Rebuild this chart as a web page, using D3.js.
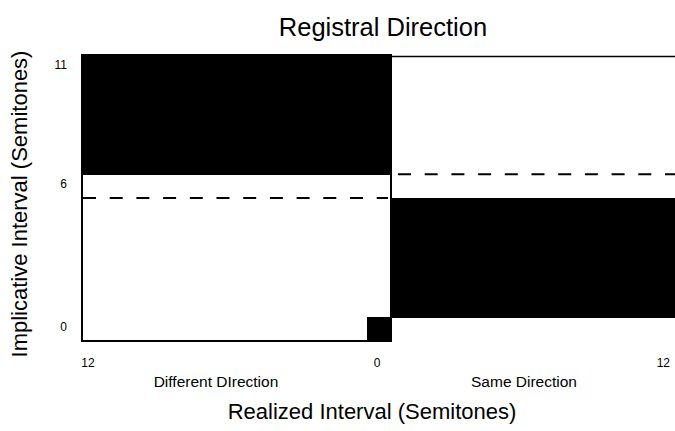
<!DOCTYPE html>
<html><head><meta charset="utf-8">
<script src="https://cdn.jsdelivr.net/npm/d3@7"></script>
<style>
html,body{margin:0;padding:0;background:#fff;}
text{font-family:"Liberation Sans",Arial,Helvetica,sans-serif;fill:#000;}
</style>
</head><body>
<svg id="chart" width="675" height="431"></svg>
<script>
// Implicative interval rows (semitones)
const implicative = [0,1,2,3,4,5,6,7,8,9,10,11];
const yTickValues = [0, 6, 11];
// Realized interval columns
const diffRealized = [12,11,10,9,8,7,6,5,4,3,2,1,0];
const sameRealized = [1,2,3,4,5,6,7,8,9,10,11,12];
const xTickLeft = [12, 0];
const xTickRight = [12];
// Black (shaded) implicative intervals for each realized interval
const diffBlackRows = [
  [7,8,9,10,11],[7,8,9,10,11],[7,8,9,10,11],[7,8,9,10,11],[7,8,9,10,11],
  [7,8,9,10,11],[7,8,9,10,11],[7,8,9,10,11],[7,8,9,10,11],[7,8,9,10,11],
  [7,8,9,10,11],[7,8,9,10,11],[0,7,8,9,10,11]
];
const sameBlackRows = [
  [1,2,3,4,5],[1,2,3,4,5],[1,2,3,4,5],[1,2,3,4,5],[1,2,3,4,5],[1,2,3,4,5],
  [1,2,3,4,5],[1,2,3,4,5],[1,2,3,4,5],[1,2,3,4,5],[1,2,3,4,5],[1,2,3,4,5]
];
// Dashed reference levels (implicative interval)
const diffDashed = 5.5;
const sameDashed = 6.5;

(function(){
const svg = d3.select("#chart");
const pTop = 55, pBottom = 341, pLeft = 82, pMid = 391;
const cell = (pMid - pLeft) / diffRealized.length;
const pRight = pMid + cell * sameRealized.length;

const y = d3.scaleBand().domain(implicative).range([pBottom, pTop]);
const yLin = d3.scaleLinear().domain([-0.5, 11.5]).range([pBottom, pTop]);
const xL = d3.scaleBand().domain(diffRealized).range([pLeft, pMid]);
const xR = d3.scaleBand().domain(sameRealized).range([pMid, pRight]);

const diffCells = [];
diffRealized.forEach((r,i) => diffBlackRows[i].forEach(v => diffCells.push({r, v})));
const sameCells = [];
sameRealized.forEach((r,i) => sameBlackRows[i].forEach(v => sameCells.push({r, v})));

svg.append("g").attr("shape-rendering","crispEdges").selectAll("rect").data(diffCells).join("rect")
  .attr("x", d => xL(d.r)).attr("y", d => y(d.v))
  .attr("width", xL.bandwidth()+0.5).attr("height", y.bandwidth()+0.5).attr("fill","#000");
svg.append("g").attr("shape-rendering","crispEdges").selectAll("rect").data(sameCells).join("rect")
  .attr("x", d => xR(d.r)).attr("y", d => y(d.v))
  .attr("width", xR.bandwidth()+0.5).attr("height", y.bandwidth()+0.5).attr("fill","#000");

// Panel outlines
svg.append("rect").attr("x", pLeft).attr("y", pTop).attr("width", pMid-pLeft).attr("height", pBottom-pTop)
  .attr("fill","none").attr("stroke","#000").attr("stroke-width",2);
svg.append("path").attr("d", `M${pMid},${pBottom}V${pTop+1.5}H${pRight}`)
  .attr("fill","none").attr("stroke","#000").attr("stroke-width",1.3);

// Dashed lines
svg.append("line").attr("x1", pLeft+1).attr("x2", pMid-3)
  .attr("y1", yLin(diffDashed)).attr("y2", yLin(diffDashed))
  .attr("stroke","#000").attr("stroke-width",2).attr("stroke-dasharray","13,13.7");
svg.append("line").attr("x1", pMid+7).attr("x2", pRight)
  .attr("y1", yLin(sameDashed)).attr("y2", yLin(sameDashed))
  .attr("stroke","#000").attr("stroke-width",2).attr("stroke-dasharray","13,13.7");

// Y tick labels
svg.append("g").selectAll("text").data(yTickValues).join("text")
  .attr("x", 67).attr("y", d => y(d) + y.bandwidth()/2 - 1)
  .attr("text-anchor","end").attr("dominant-baseline","middle")
  .attr("font-size", 12).text(d => d);

// X tick labels
svg.append("g").selectAll("text").data(xTickLeft).join("text")
  .attr("x", d => xL(d) + xL.bandwidth()/2 - (d===12?6:2)).attr("y", 367)
  .attr("text-anchor","middle").attr("font-size", 12).text(d => d);
svg.append("g").selectAll("text").data(xTickRight).join("text")
  .attr("x", d => xR(d) + xR.bandwidth()/2 - 1).attr("y", 367)
  .attr("text-anchor","middle").attr("font-size", 12).text(d => d);

// Direction labels
svg.append("text").attr("x", 216).attr("y", 387).attr("text-anchor","middle")
  .attr("font-size", 15.5).text("Different DIrection");
svg.append("text").attr("x", 524).attr("y", 387).attr("text-anchor","middle")
  .attr("font-size", 15.5).text("Same Direction");

// Titles
svg.append("text").attr("x", 383).attr("y", 36).attr("text-anchor","middle")
  .attr("font-size", 25.5).text("Registral Direction");
svg.append("text").attr("x", 372).attr("y", 419).attr("text-anchor","middle")
  .attr("font-size", 22).text("Realized Interval (Semitones)");
svg.append("text").attr("transform","translate(27,204) rotate(-90)").attr("text-anchor","middle")
  .attr("font-size", 22).text("Implicative Interval (Semitones)");
})();
</script>
</body></html>
